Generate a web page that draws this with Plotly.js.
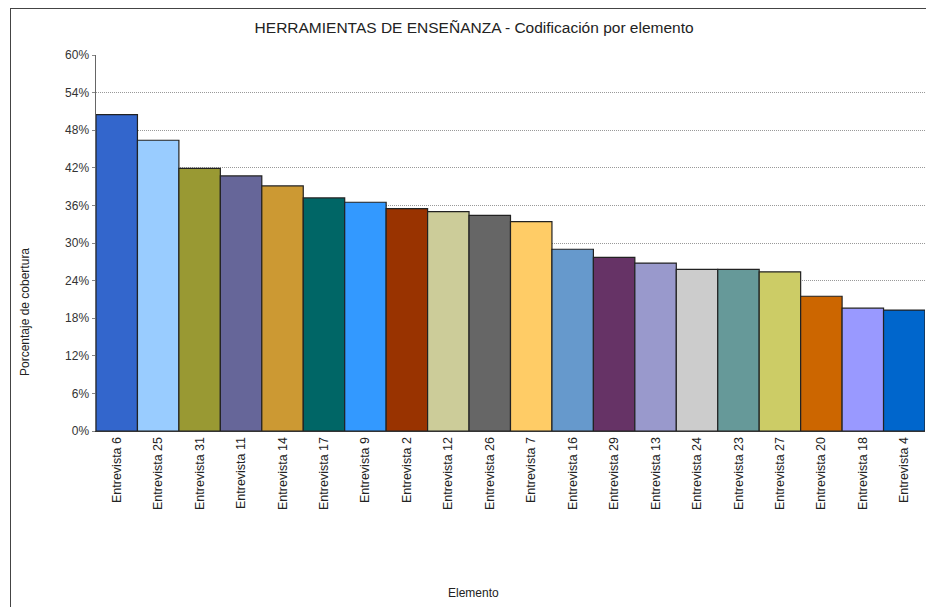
<!DOCTYPE html>
<html>
<head>
<meta charset="utf-8">
<script src="https://cdn.plot.ly/plotly-3.0.1.min.js"></script>
<style>
html,body{margin:0;padding:0;background:#fff;}
#wrap{position:relative;width:926px;height:607px;}
#chart{position:absolute;left:0;top:0;width:926px;height:607px;}
#frame{position:absolute;left:10px;top:8px;width:930px;height:620px;border:1px solid #444;pointer-events:none;}
</style>
</head>
<body>
<div id="wrap"><div id="chart"></div><div id="frame"></div></div>
<script>
const categories = ["Entrevista 6","Entrevista 25","Entrevista 31","Entrevista 11","Entrevista 14","Entrevista 17","Entrevista 9","Entrevista 2","Entrevista 12","Entrevista 26","Entrevista 7","Entrevista 16","Entrevista 29","Entrevista 13","Entrevista 24","Entrevista 23","Entrevista 27","Entrevista 20","Entrevista 18","Entrevista 4"];
const coverage = [0.505,0.464,0.419,0.407,0.391,0.372,0.365,0.355,0.350,0.344,0.334,0.290,0.277,0.268,0.258,0.258,0.254,0.215,0.196,0.193];
const barColors = ["#3366CC","#99CCFF","#999933","#666699","#CC9933","#006666","#3399FF","#993300","#CCCC99","#666666","#FFCC66","#6699CC","#663366","#9999CC","#CCCCCC","#669999","#CCCC66","#CC6600","#9999FF","#0066CC"];
const yTicks = [0,0.06,0.12,0.18,0.24,0.30,0.36,0.42,0.48,0.54,0.60];
const yTickLabels = ["0%","6%","12%","18%","24%","30%","36%","42%","48%","54%","60%"];

const font = "Liberation Sans, Arial, sans-serif";
const trace = {
  type: "bar",
  x: categories,
  y: coverage,
  marker: {color: barColors, line: {color: "#222", width: 1.2}},
  hoverinfo: "x+y"
};
const layout = {
  width: 926, height: 607,
  margin: {l: 96, r: 1, t: 55, b: 176},
  paper_bgcolor: "#fff", plot_bgcolor: "#fff",
  bargap: 0,
  showlegend: false,
  font: {family: font, size: 12, color: "#333"},
  title: {text: "HERRAMIENTAS DE ENSEÑANZA - Codificación por elemento", x: 0.512, xanchor: "center", y: 0.954, yanchor: "middle", font: {family: font, size: 15.5, color: "#222"}},
  xaxis: {
    type: "category", tickangle: -90, showgrid: false, showline: true, linecolor: "#333", linewidth: 1,
    ticks: "", tickfont: {family: font, size: 12.5, color: "#222"}, automargin: false,
    range: [-0.5, 19.5]
  },
  yaxis: {
    range: [0, 0.6], tickvals: yTicks, ticktext: yTickLabels,
    showgrid: true, gridcolor: "#999", griddash: "1px,1px", gridwidth: 1,
    showline: true, linecolor: "#666", linewidth: 1.5, ticks: "outside", ticklen: 3, tickcolor: "#888",
    zeroline: false, tickfont: {family: font, size: 12, color: "#333"}, automargin: false
  },
  annotations: [
    {text: "Elemento", xref: "paper", yref: "paper", x: 0.455, y: -0.431, xanchor: "center", yanchor: "middle", showarrow: false, font: {family: font, size: 12, color: "#222"}},
    {text: "Porcentaje de cobertura", xref: "paper", yref: "paper", x: -0.0856, y: 0.3165, xanchor: "center", yanchor: "middle", textangle: -90, showarrow: false, font: {family: font, size: 12, color: "#222"}}
  ]
};
Plotly.newPlot("chart", [trace], layout, {displayModeBar: false, staticPlot: true});
</script>
</body>
</html>
